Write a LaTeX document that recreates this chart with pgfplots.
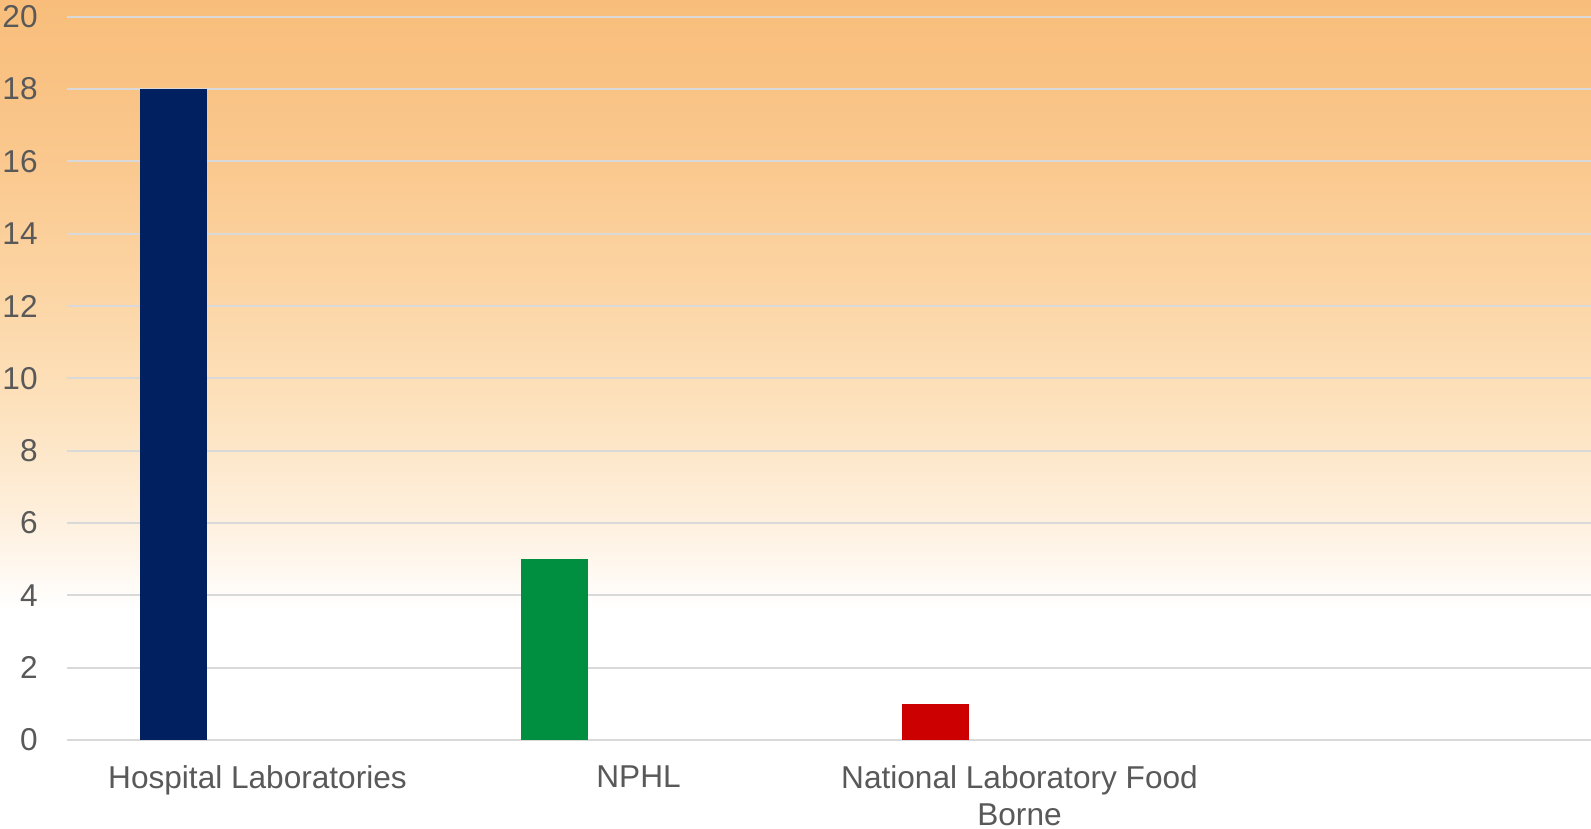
\documentclass[border=0pt]{standalone}
\usepackage{pgfplots}
\pgfplotsset{compat=1.18}
\usepackage{fontspec}
\setmainfont{Liberation Sans}
\definecolor{barnavy}{HTML}{00205F}
\definecolor{bargreen}{HTML}{008E40}
\definecolor{barred}{HTML}{CC0000}
\definecolor{gridgray}{HTML}{D9D9D9}
\definecolor{labelgray}{HTML}{595959}
\definecolor{bgA}{HTML}{F8BD7A}
\definecolor{bgB}{HTML}{FAC78C}
\definecolor{bgC}{HTML}{FCD6A6}
\definecolor{bgD}{HTML}{FDE3C0}
\definecolor{bgE}{HTML}{FEF0DE}
\definecolor{bgF}{HTML}{FFFAF4}
\pgfdeclareverticalshading{bgshade}{100bp}{color(0bp)=(white); color(38.2bp)=(white); color(40bp)=(bgF); color(43.6bp)=(bgE); color(49.7bp)=(bgD); color(56.9bp)=(bgC); color(66bp)=(bgB); color(75bp)=(bgA); color(100bp)=(bgA)}
\begin{document}
\begin{tikzpicture}
\shade[shading=bgshade] (-33.5pt,-44.5pt) rectangle (762pt,370pt);
\path[use as bounding box] (-33.5pt,-44.5pt) rectangle (762pt,370pt);
\begin{axis}[
  at={(0,0)}, anchor=south west,
  scale only axis,
  width=762pt, height=361.65pt,
  xmin=-0.5, xmax=3.5,
  ymin=0, ymax=20,
  ytick={0,2,...,20},
  xtick={0,1,2},
  xticklabels={Hospital Laboratories, NPHL, {National Laboratory Food\\Borne}},
  axis line style={draw=none},
  tick style={draw=none},
  ymajorgrids,
  major grid style={gridgray, line width=1pt},
  ybar, bar width=33.5pt, bar shift=-42pt,
  every tick label/.append style={font=\fontsize{15.8}{18.5}\selectfont, text=labelgray},
  /pgf/number format/assume math mode=true,
  yticklabel style={inner sep=0pt, anchor=east, xshift=-14.5pt},
  xticklabel style={inner sep=0pt, anchor=north, align=center, yshift=-8.5pt},
]
\addplot[fill=barnavy, draw=none] coordinates {(0,18)};
\addplot[fill=bargreen, draw=none] coordinates {(1,5)};
\addplot[fill=barred, draw=none] coordinates {(2,1)};
\end{axis}
\end{tikzpicture}
\end{document}
